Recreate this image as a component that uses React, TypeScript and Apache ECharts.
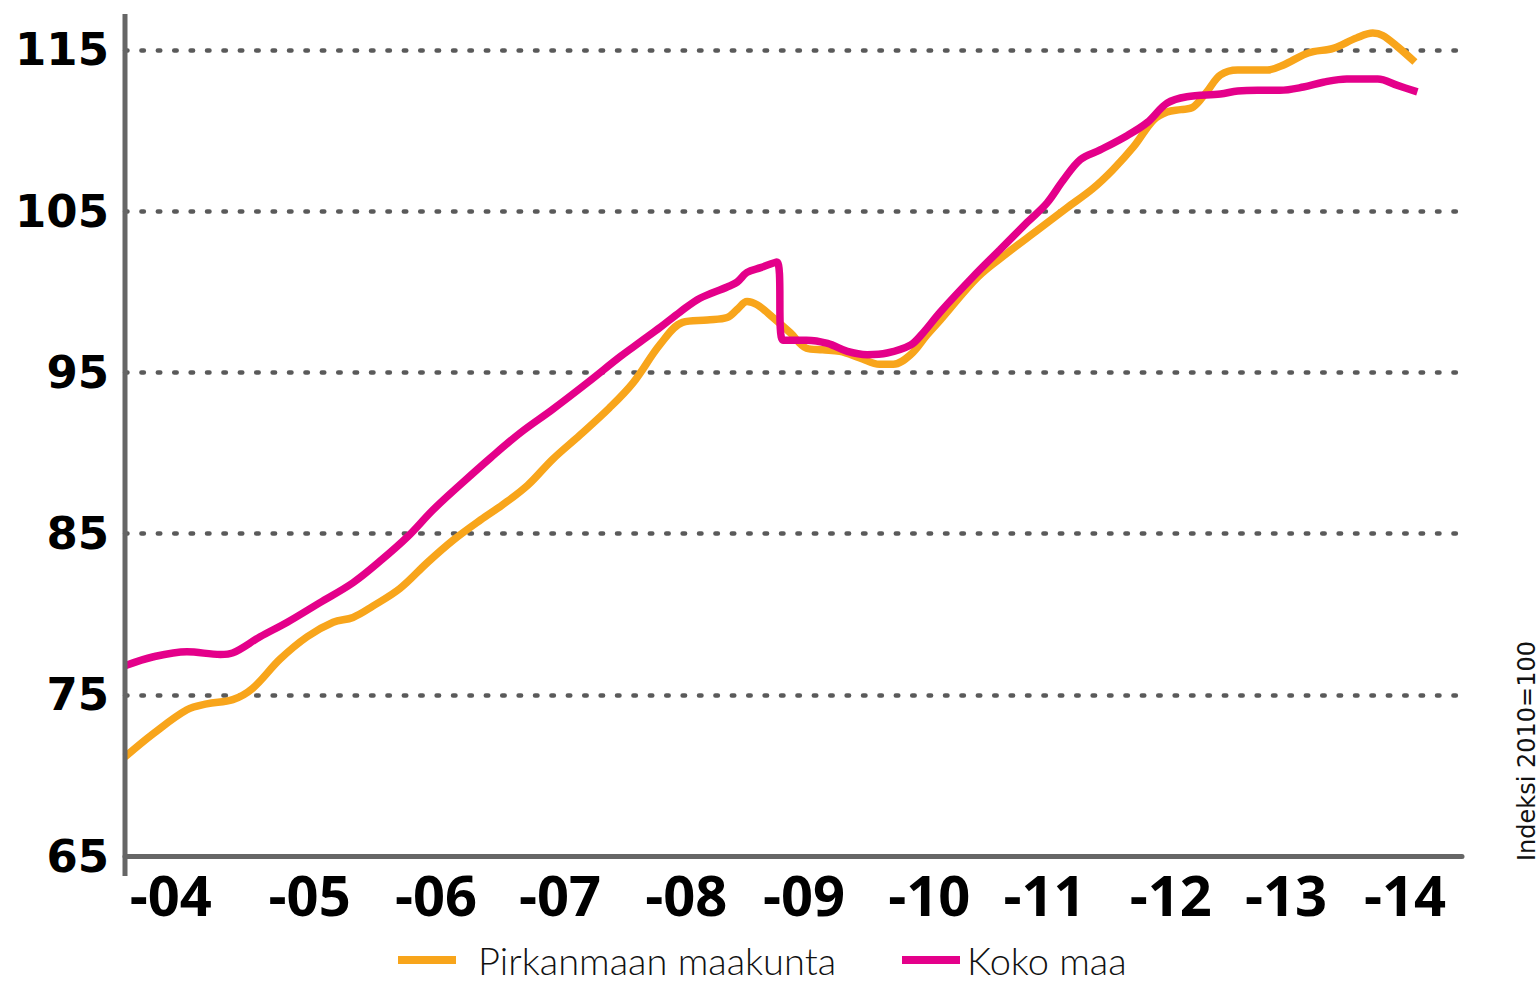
import React, { useEffect, useRef } from "react";
import * as echarts from "echarts";

// Tick labels (x positions in decimal years where each year's label sits)
const yearLabelAt = [2004.37, 2005.49, 2006.51, 2007.51, 2008.53, 2009.48, 2010.49, 2011.42, 2012.44, 2013.37, 2014.33];

// Pirkanmaan maakunta (orange)
const pirkanmaaYears = [
  2004.0, 2004.23, 2004.5, 2004.66, 2004.87, 2005.03, 2005.25, 2005.47, 2005.68, 2005.84,
  2006.0, 2006.22, 2006.44, 2006.65, 2006.87, 2007.05, 2007.25, 2007.45, 2007.67, 2007.91,
  2008.1, 2008.32, 2008.5, 2008.7, 2008.86, 2008.94, 2009.02, 2009.1, 2009.23, 2009.37,
  2009.5, 2009.63, 2009.77, 2009.93, 2010.09, 2010.2, 2010.34, 2010.47, 2010.58, 2010.88,
  2011.12, 2011.36, 2011.6, 2011.81, 2011.97, 2012.14, 2012.3, 2012.41, 2012.52, 2012.62,
  2012.73, 2012.84, 2012.98, 2013.22, 2013.35, 2013.51, 2013.59, 2013.75, 2013.94, 2014.07,
  2014.15, 2014.27, 2014.41,
];
const pirkanmaaValues = [
  71.15, 72.6, 74.07, 74.44, 74.7, 75.4, 77.2, 78.6, 79.5, 79.8,
  80.5, 81.6, 83.2, 84.6, 85.85, 86.8, 88.0, 89.6, 91.1, 92.8,
  94.35, 96.75, 98.1, 98.25, 98.4, 98.9, 99.4, 99.2, 98.4, 97.45,
  96.5, 96.4, 96.3, 95.9, 95.5, 95.5, 96.1, 97.3, 98.25, 100.9,
  102.4, 103.8, 105.2, 106.4, 107.55, 109.0, 110.65, 111.15, 111.3, 111.45,
  112.4, 113.45, 113.76, 113.76, 114.07, 114.7, 114.9, 115.1, 115.75, 116.05,
  115.9, 115.2, 114.25,
];

// Koko maa (magenta)
const kokoMaaYears = [
  2004.0, 2004.23, 2004.5, 2004.77, 2004.87, 2005.09, 2005.31, 2005.57, 2005.84, 2006.06,
  2006.28, 2006.49, 2006.73, 2006.95, 2007.19, 2007.45, 2007.73, 2008.0, 2008.16, 2008.32,
  2008.48, 2008.64, 2008.86, 2008.94, 2009.02, 2009.13, 2009.26, 2009.31, 2009.5, 2009.67,
  2009.83, 2009.99, 2010.15, 2010.34, 2010.44, 2010.58, 2010.84, 2011.06, 2011.28, 2011.44,
  2011.57, 2011.71, 2011.87, 2012.09, 2012.25, 2012.41, 2012.57, 2012.84, 2012.98, 2013.14,
  2013.32, 2013.51, 2013.67, 2013.86, 2014.11, 2014.27, 2014.43,
];
const kokoMaaValues = [
  76.8, 77.36, 77.67, 77.5, 77.6, 78.6, 79.5, 80.7, 81.95, 83.3,
  84.8, 86.5, 88.2, 89.7, 91.25, 92.7, 94.35, 96.0, 96.9, 97.8,
  98.75, 99.6, 100.3, 100.6, 101.2, 101.5, 101.85, 97.0, 97.0, 96.8,
  96.3, 96.1, 96.2, 96.7, 97.45, 98.75, 100.9, 102.6, 104.3, 105.5,
  106.9, 108.2, 108.8, 109.7, 110.5, 111.7, 112.1, 112.27, 112.45, 112.5,
  112.5, 112.7, 113.0, 113.2, 113.2, 112.8, 112.4,
];

const seriesNames = ["Pirkanmaan maakunta", "Koko maa"];
const yTicks = { min: 65, max: 117.2, interval: 10 };
const xRange = { min: 2004, max: 2014.79 };
const indexNote = "Indeksi 2010=100";

const ORANGE = "#F8A51B";
const MAGENTA = "#E4008A";
const GREY = "#666666";

function zip(xs: number[], ys: number[]) {
  return xs.map((x, i) => [x, ys[i]]);
}

export default function App() {
  const ref = useRef<HTMLDivElement>(null);

  useEffect(() => {
    if (!ref.current) return;
    const chart = echarts.init(ref.current, undefined, { renderer: "svg" });
    const legendText = {
      fontFamily: "Lato",
      fontWeight: 300,
      fontSize: 38,
      lineHeight: 40,
      color: "#111",
    };
    chart.setOption({
      animation: false,
      backgroundColor: "#ffffff",
      grid: { left: 125, right: 78, top: 14.5, bottom: 126, containLabel: false },
      xAxis: {
        type: "value",
        min: xRange.min,
        max: xRange.max,
        axisLine: { show: true, lineStyle: { color: GREY, width: 5 } },
        axisTick: { show: false },
        splitLine: { show: false },
        axisLabel: {
          customValues: yearLabelAt,
          formatter: (v: number) => "-" + String(Math.floor(v + 1e-6)).slice(2),
          fontFamily: "Open Sans",
          fontWeight: "bold",
          fontSize: 56,
          color: "#000",
          margin: 10,
        },
      },
      yAxis: {
        type: "value",
        min: yTicks.min,
        max: yTicks.max,
        interval: yTicks.interval,
        axisLine: { show: false },
        axisTick: { show: false },
        axisLabel: {
          showMaxLabel: false,
          fontFamily: "DejaVu Sans",
          fontWeight: "bold",
          fontSize: 45,
          color: "#000",
          margin: 16,
        },
        splitLine: {
          show: true,
          showMinLine: false,
          showMaxLine: false,
          lineStyle: { color: "#5a5a5a", width: 4.5, type: [2.5, 13.9], cap: "round" },
        },
      },
      legend: [
        {
          data: [seriesNames[0]],
          left: 393,
          top: 935,
          icon: "rect",
          itemWidth: 58,
          itemHeight: 8,
          selectedMode: false,
          textStyle: { ...legendText, padding: [0, 0, 0, 17] },
        },
        {
          data: [seriesNames[1]],
          left: 897,
          top: 935,
          icon: "rect",
          itemWidth: 58,
          itemHeight: 8,
          selectedMode: false,
          textStyle: { ...legendText, padding: [0, 0, 0, 2] },
        },
      ],
      graphic: [
        {
          type: "line",
          shape: { x1: 125, y1: 14, x2: 125, y2: 876 },
          style: { stroke: GREY, lineWidth: 5 },
          z: 10,
        },
        {
          type: "text",
          x: 1527,
          y: 751,
          rotation: Math.PI / 2,
          style: {
            text: indexNote,
            font: '24px "DejaVu Sans"',
            fill: "#111",
            align: "center",
            verticalAlign: "middle",
            textAlign: "center",
            textVerticalAlign: "middle",
          },
        },
      ],
      series: [
        {
          name: seriesNames[0],
          type: "line",
          data: zip(pirkanmaaYears, pirkanmaaValues),
          showSymbol: false,
          symbol: "none",
          smooth: 0.35,
          itemStyle: { color: ORANGE },
          lineStyle: { color: ORANGE, width: 7.5 },
        },
        {
          name: seriesNames[1],
          type: "line",
          data: zip(kokoMaaYears, kokoMaaValues),
          showSymbol: false,
          symbol: "none",
          smooth: 0.35,
          itemStyle: { color: MAGENTA },
          lineStyle: { color: MAGENTA, width: 7.5 },
        },
      ],
    });
    return () => chart.dispose();
  }, []);

  return (
    <div
      ref={ref}
      style={{ position: "fixed", left: 0, top: 0, width: 1540, height: 982, background: "#fff" }}
    />
  );
}
